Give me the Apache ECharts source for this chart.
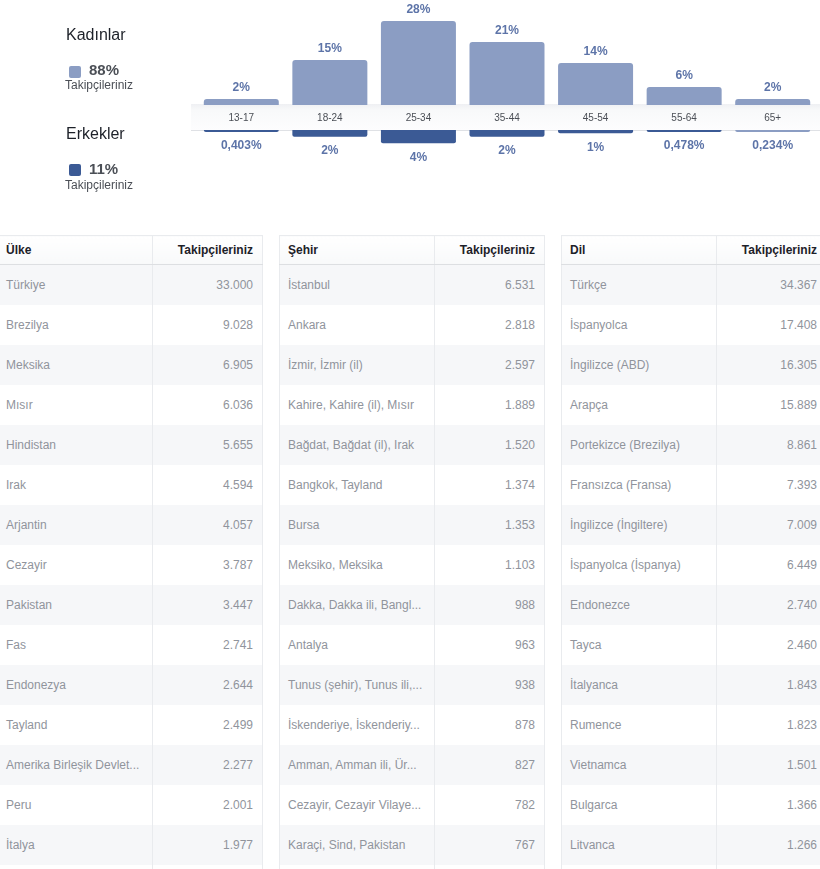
<!DOCTYPE html>
<html>
<head>
<meta charset="utf-8">
<script src="https://cdn.jsdelivr.net/npm/echarts@6/dist/echarts.min.js"></script>
<style>
  html, body { margin:0; padding:0; background:#fff; width:820px; height:869px; overflow:hidden; position:relative; font-family:"Liberation Sans", Arial, sans-serif; }
  #chart { position:absolute; left:0; top:0; width:820px; height:232px; }
  table.tbl { position:absolute; top:235px; width:265px; border-collapse:collapse; table-layout:fixed; font-size:12px; font-family:"Liberation Sans", Arial, sans-serif; border-left:1px solid #e9ebee; border-right:1px solid #e9ebee; }
  table.tbl th { height:28px; padding:0 9px 0 8px; border-top:1px solid #e9ebee; border-bottom:1px solid #dddfe2; text-align:left; color:#1d2129; font-weight:bold; background:linear-gradient(#ffffff,#f8f9fa); white-space:nowrap; }
  table.tbl td { height:40px; padding:0 9px 0 8px; color:#90949c; white-space:nowrap; overflow:hidden; }
  table.tbl .num { text-align:right; border-left:1px solid #e9ebee; }
  table.tbl tbody tr:nth-child(odd) td { background:#f6f7f9; }
</style>
</head>
<body>
<div id="chart"></div>
<div id="tables"></div>
<script>
// ---- Age / gender chart data ----
const ageGroups = ['13-17', '18-24', '25-34', '35-44', '45-54', '55-64', '65+'];
const womenPct = [2, 15, 28, 21, 14, 6, 2];
const menPct = [0.403, 2, 4, 2, 1, 0.478, 0.234];
const genderNames = ['Kadınlar', 'Erkekler'];
const genderShares = [88, 11];
const followersLabel = 'Takipçileriniz';

// ---- Table data ----
const countryHeader = ['Ülke', 'Takipçileriniz'];
const countries = ['Türkiye', 'Brezilya', 'Meksika', 'Mısır', 'Hindistan', 'Irak', 'Arjantin', 'Cezayir', 'Pakistan', 'Fas', 'Endonezya', 'Tayland', 'Amerika Birleşik Devlet...', 'Peru', 'İtalya'];
const countryFollowers = [33000, 9028, 6905, 6036, 5655, 4594, 4057, 3787, 3447, 2741, 2644, 2499, 2277, 2001, 1977];

const cityHeader = ['Şehir', 'Takipçileriniz'];
const cities = ['İstanbul', 'Ankara', 'İzmir, İzmir (il)', 'Kahire, Kahire (il), Mısır', 'Bağdat, Bağdat (il), Irak', 'Bangkok, Tayland', 'Bursa', 'Meksiko, Meksika', 'Dakka, Dakka ili, Bangl...', 'Antalya', 'Tunus (şehir), Tunus ili,...', 'İskenderiye, İskenderiy...', 'Amman, Amman ili, Ür...', 'Cezayir, Cezayir Vilaye...', 'Karaçi, Sind, Pakistan'];
const cityFollowers = [6531, 2818, 2597, 1889, 1520, 1374, 1353, 1103, 988, 963, 938, 878, 827, 782, 767];

const languageHeader = ['Dil', 'Takipçileriniz'];
const languages = ['Türkçe', 'İspanyolca', 'İngilizce (ABD)', 'Arapça', 'Portekizce (Brezilya)', 'Fransızca (Fransa)', 'İngilizce (İngiltere)', 'İspanyolca (İspanya)', 'Endonezce', 'Tayca', 'İtalyanca', 'Rumence', 'Vietnamca', 'Bulgarca', 'Litvanca'];
const languageFollowers = [34367, 17408, 16305, 15889, 8861, 7393, 7009, 6449, 2740, 2460, 1843, 1823, 1501, 1366, 1266];

function fmtThousands(n) {
  return String(n).replace(/\B(?=(\d{3})+(?!\d))/g, '.');
}
function fmtPct(v) {
  return String(v).replace('.', ',') + '%';
}

const womenColor = '#8b9dc3';
const menColor = '#3b5a95';
const labelColor = '#5d74a8';
const font = '"Liberation Sans", Arial, sans-serif';

const chart = echarts.init(document.getElementById('chart'), null, { renderer: 'canvas' });
chart.setOption({
  animation: false,
  textStyle: { fontFamily: font },
  grid: [
    { left: 197, width: 620, top: 15, height: 90 },
    { left: 197, width: 620, top: 130, height: 30 }
  ],
  xAxis: [
    { gridIndex: 0, type: 'category', data: ageGroups, show: false },
    { gridIndex: 1, type: 'category', data: ageGroups, position: 'top', z: 10,
      axisLine: { show: false }, axisTick: { show: false }, splitLine: { show: false },
      axisLabel: { margin: 7, fontSize: 10, color: '#4b4f56', fontFamily: font } }
  ],
  yAxis: [
    { gridIndex: 0, type: 'value', min: 0, max: 30, show: false },
    { gridIndex: 1, type: 'value', min: 0, max: 9, inverse: true, show: false }
  ],
  graphic: [
    { type: 'rect', z: 1, shape: { x: 191, y: 104, width: 629, height: 26 },
      style: { fill: { type: 'linear', x: 0, y: 0, x2: 0, y2: 1,
        colorStops: [{ offset: 0, color: '#eff0f3' }, { offset: 0.25, color: '#f8f9fa' }, { offset: 1, color: '#fdfdfe' }] } } },
    { type: 'line', z: 1, shape: { x1: 191, y1: 130.5, x2: 820, y2: 130.5 }, style: { stroke: '#dfe1e5', lineWidth: 1 } },
    // legend block
    { type: 'text', left: 66, top: 28, style: { text: genderNames[0], fontSize: 16, fill: '#1d2129', fontFamily: font } },
    { type: 'rect', shape: { x: 69, y: 66, width: 12, height: 12, r: 2 }, style: { fill: womenColor } },
    { type: 'text', left: 89, top: 63, style: { text: genderShares[0] + '%', fontSize: 15, fontWeight: 'bold', fill: '#4b4f56', fontFamily: font } },
    { type: 'text', left: 65, top: 80, style: { text: followersLabel, fontSize: 12, fill: '#4b4f56', fontFamily: font } },
    { type: 'text', left: 66, top: 127, style: { text: genderNames[1], fontSize: 16, fill: '#1d2129', fontFamily: font } },
    { type: 'rect', shape: { x: 69, y: 164, width: 12, height: 12, r: 2 }, style: { fill: menColor } },
    { type: 'text', left: 89, top: 162, style: { text: genderShares[1] + '%', fontSize: 15, fontWeight: 'bold', fill: '#4b4f56', fontFamily: font } },
    { type: 'text', left: 65, top: 180, style: { text: followersLabel, fontSize: 12, fill: '#4b4f56', fontFamily: font } }
  ],
  series: [
    { name: genderNames[0], type: 'bar', xAxisIndex: 0, yAxisIndex: 0, data: womenPct, barWidth: 75,
      itemStyle: { color: womenColor, borderRadius: [3, 3, 0, 0] },
      label: { show: true, position: 'top', distance: 5, fontSize: 12, fontWeight: 'bold', color: labelColor,
        formatter: p => fmtPct(p.value) } },
    { name: genderNames[1], type: 'bar', xAxisIndex: 1, yAxisIndex: 1,
      data: menPct.map((v, i) => i === menPct.length - 1 ? { value: v, itemStyle: { color: womenColor } } : v),
      barWidth: 75, barMinHeight: 2,
      itemStyle: { color: menColor, borderRadius: [0, 0, 2, 2] },
      label: { show: true, position: 'bottom', distance: 8, fontSize: 12, fontWeight: 'bold', color: labelColor,
        formatter: p => fmtPct(p.value) } }
  ]
});

// ---- Tables ----
function buildTable(left, header, names, values) {
  let html = '<table class="tbl" style="left:' + left + 'px"><colgroup><col style="width:155px"><col style="width:110px"></colgroup>';
  html += '<thead><tr><th>' + header[0] + '</th><th class="num">' + header[1] + '</th></tr></thead><tbody>';
  names.forEach((n, i) => {
    html += '<tr><td>' + n + '</td><td class="num">' + fmtThousands(values[i]) + '</td></tr>';
  });
  html += '<tr><td></td><td class="num"></td></tr>';
  html += '</tbody></table>';
  return html;
}
document.getElementById('tables').innerHTML =
  buildTable(-3, countryHeader, countries, countryFollowers) +
  buildTable(279, cityHeader, cities, cityFollowers) +
  buildTable(561, languageHeader, languages, languageFollowers);
</script>
</body>
</html>
